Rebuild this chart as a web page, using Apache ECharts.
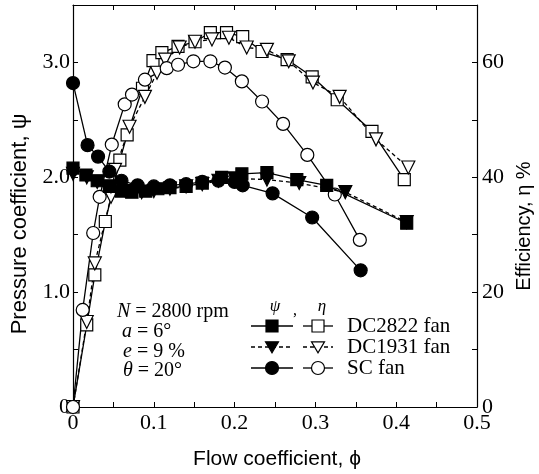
<!DOCTYPE html>
<html>
<head>
<meta charset="utf-8">
<script src="https://cdn.jsdelivr.net/npm/echarts@6/dist/echarts.min.js"></script>
<style>html,body{margin:0;padding:0;background:#fff;}#c{width:539px;height:474px;}</style>
</head>
<body>
<div id="c"></div>
<script>
// ---- data ----
const xTickLabels = ['0', '0.1', '0.2', '0.3', '0.4', '0.5'];
const psiTickLabels = ['0', '1.0', '2.0', '3.0'];
const etaTickLabels = ['0', '20', '40', '60'];

// DC2822 fan
const dc2822PsiX = [0, 0.016, 0.03, 0.045, 0.06, 0.073, 0.09, 0.105, 0.12, 0.14, 0.16, 0.184, 0.209, 0.24, 0.277, 0.314, 0.413];
const dc2822Psi  = [2.08, 2.02, 1.97, 1.92, 1.88, 1.87, 1.88, 1.90, 1.91, 1.92, 1.95, 2.00, 2.03, 2.04, 1.98, 1.93, 1.60];
const dc2822EtaX = [0, 0.017, 0.027, 0.04, 0.058, 0.067, 0.086, 0.099, 0.11, 0.13, 0.151, 0.17, 0.19, 0.21, 0.234, 0.265, 0.296, 0.327, 0.37, 0.41];
const dc2822Eta  = [0, 14.3, 23, 32.3, 43, 47.4, 55.5, 60.3, 61.7, 62.8, 63.6, 65.2, 65.2, 64.5, 61.9, 60.5, 57.5, 53.5, 48, 39.6];

// DC1931 fan
const dc1931PsiX = [0, 0.017, 0.03, 0.047, 0.065, 0.085, 0.1, 0.12, 0.14, 0.16, 0.18, 0.2, 0.24, 0.28, 0.337, 0.413];
const dc1931Psi  = [2.03, 2.00, 1.96, 1.92, 1.88, 1.87, 1.88, 1.90, 1.92, 1.94, 1.97, 1.99, 1.98, 1.95, 1.87, 1.61];
const dc1931EtaX = [0, 0.017, 0.027, 0.047, 0.052, 0.07, 0.089, 0.104, 0.114, 0.132, 0.151, 0.172, 0.193, 0.215, 0.24, 0.267, 0.297, 0.33, 0.375, 0.415];
const dc1931Eta  = [0, 14.8, 25, 36.6, 41.3, 48.8, 54, 58.2, 60.5, 62.6, 63.6, 64, 64.3, 62.6, 62.2, 60.2, 56.5, 54, 46.6, 41.7];

// SC fan
const scPsiX = [0, 0.018, 0.031, 0.045, 0.06, 0.08, 0.1, 0.12, 0.14, 0.16, 0.18, 0.2, 0.21, 0.247, 0.296, 0.356];
const scPsi  = [2.82, 2.28, 2.18, 2.05, 1.97, 1.93, 1.92, 1.93, 1.94, 1.96, 1.97, 1.96, 1.93, 1.86, 1.65, 1.19];
const scEtaX = [0, 0.012, 0.025, 0.033, 0.048, 0.064, 0.073, 0.089, 0.116, 0.13, 0.149, 0.17, 0.188, 0.209, 0.234, 0.26, 0.29, 0.324, 0.355];
const scEta  = [0, 16.9, 30.3, 36.6, 45.7, 52.7, 54.4, 57, 59, 59.6, 60.2, 60.2, 59.1, 56.7, 53.2, 49.3, 43.9, 37, 29.1];

// ---- chart ----
const zip = (xs, ys) => xs.map((x, i) => [x, ys[i]]);
const SERIF = 'Liberation Serif';
const SANS = 'Liberation Sans';
const BLACK = '#000';

function mkSeries(xs, ys, axis, symbol, filled, dashed, size, rotate) {
  return {
    type: 'line',
    yAxisIndex: axis,
    data: zip(xs, ys),
    symbol: symbol,
    symbolSize: size,
    symbolRotate: rotate || 0,
    showAllSymbol: true,
    animation: false,
    lineStyle: { color: BLACK, width: 1.3, type: dashed ? [4, 3] : 'solid' },
    itemStyle: { color: filled ? BLACK : '#fff', borderColor: BLACK, borderWidth: 1.2, opacity: 1 },
    z: filled ? 3 : 2
  };
}

function xFmt(v) {
  const k = Math.round(v * 100);
  if (k % 10 !== 0) return '';
  return xTickLabels[k / 10] || '';
}
function psiFmt(v) {
  const k = Math.round(v * 10);
  if (k % 10 !== 0) return '';
  return psiTickLabels[k / 10] || '';
}
function etaFmt(v) {
  if (v % 20 !== 0) return '';
  return etaTickLabels[v / 20] || '';
}

const axisLine = { show: true, onZero: false, lineStyle: { color: BLACK, width: 1.2 } };
const axisTick = { show: true, inside: true, length: 5, lineStyle: { color: BLACK, width: 1 } };
const lblStyle = { color: BLACK, fontFamily: SERIF, fontSize: 22 };

// legend sample helpers (legend key, not data)
function sq(cx, cy, s, fill) {
  return { type: 'rect', shape: { x: cx - s / 2, y: cy - s / 2, width: s, height: s }, style: { fill: fill, stroke: BLACK, lineWidth: 1.2 }, z: 10 };
}
function circ(cx, cy, r, fill) {
  return { type: 'circle', shape: { cx: cx, cy: cy, r: r }, style: { fill: fill, stroke: BLACK, lineWidth: 1.2 }, z: 10 };
}
function tri(cx, cy, s, fill) {
  return { type: 'polygon', shape: { points: [[cx - s / 2, cy - s * 0.4], [cx + s / 2, cy - s * 0.4], [cx, cy + s * 0.45]] }, style: { fill: fill, stroke: BLACK, lineWidth: 1.2 }, z: 10 };
}
function seg(x1, x2, y, dashed) {
  return { type: 'line', shape: { x1: x1, y1: y, x2: x2, y2: y }, style: { stroke: BLACK, lineWidth: 1.3, lineDash: dashed ? [4, 3] : null }, z: 9 };
}
function txt(x, y, text, opts) {
  return Object.assign({ type: 'text', x: x, y: y, z: 11, style: Object.assign({ text: text, fill: BLACK, fontFamily: SERIF, fontSize: 20, textAlign: 'left', textVerticalAlign: 'middle' }, opts || {}) });
}

const legendRows = [
  { y: 326, name: 'DC2822 fan', dashed: false, kind: 'sq' },
  { y: 347, name: 'DC1931 fan', dashed: true, kind: 'tri' },
  { y: 368, name: 'SC fan', dashed: false, kind: 'circ' }
];
const graphics = [];
legendRows.forEach(r => {
  graphics.push(seg(251, 293, r.y, r.dashed));
  graphics.push(seg(303, 333, r.y, r.dashed));
  if (r.kind === 'sq') { graphics.push(sq(272, r.y, 12, BLACK)); graphics.push(sq(318, r.y, 12, '#fff')); }
  if (r.kind === 'tri') { graphics.push(tri(272, r.y, 13, BLACK)); graphics.push(tri(318, r.y, 13, '#fff')); }
  if (r.kind === 'circ') { graphics.push(circ(272, r.y, 6.5, BLACK)); graphics.push(circ(318, r.y, 6.5, '#fff')); }
  graphics.push(txt(347, r.y, r.name, { fontSize: 21 }));
});
graphics.push(txt(275, 307, 'ψ', { fontSize: 17, fontStyle: 'italic', textAlign: 'center' }));
graphics.push(txt(295, 311, ',', { fontSize: 16, textAlign: 'center' }));
graphics.push(txt(322, 307, 'η', { fontSize: 17, fontStyle: 'italic', textAlign: 'center' }));

// condition annotations
const rich = { i: { fontStyle: 'italic', fontFamily: SERIF, fontSize: 20, fill: BLACK } };
graphics.push(txt(117, 312, '{i|N} = 2800 rpm', { rich: rich }));
graphics.push(txt(122, 332, '{i|a} = 6°', { rich: rich }));
graphics.push(txt(123, 352, '{i|e} = 9 %', { rich: rich }));
graphics.push(txt(123, 371, '{i|θ} = 20°', { rich: rich }));

// axis titles
graphics.push({ type: 'text', x: 20, y: 224, rotation: Math.PI / 2, z: 11,
  style: { text: 'Pressure coefficient, ψ', fill: BLACK, fontFamily: SANS, fontSize: 22, textAlign: 'center', textVerticalAlign: 'middle' } });
graphics.push({ type: 'text', x: 524, y: 226, rotation: Math.PI / 2, z: 11,
  style: { text: 'Efficiency, η %', fill: BLACK, fontFamily: SANS, fontSize: 20, textAlign: 'center', textVerticalAlign: 'middle' } });
graphics.push({ type: 'text', x: 277, y: 459, z: 11,
  style: { text: 'Flow coefficient, ϕ', fill: BLACK, fontFamily: SANS, fontSize: 21, textAlign: 'center', textVerticalAlign: 'middle' } });

const chart = echarts.init(document.getElementById('c'), null, { renderer: 'canvas' });
chart.setOption({
  animation: false,
  backgroundColor: '#fff',
  grid: { left: 73, right: 62, top: 5, bottom: 67, containLabel: false },
  xAxis: [
    { type: 'value', min: 0, max: 0.5, interval: 0.05, position: 'bottom',
      axisLine: axisLine, axisTick: axisTick, splitLine: { show: false },
      axisLabel: Object.assign({ formatter: xFmt, margin: 5 }, lblStyle) },
    { type: 'value', min: 0, max: 0.5, interval: 0.05, position: 'top',
      axisLine: axisLine, axisTick: axisTick, splitLine: { show: false }, axisLabel: { show: false } }
  ],
  yAxis: [
    { type: 'value', min: 0, max: 3.5, interval: 0.5, position: 'left',
      axisLine: axisLine, axisTick: axisTick, splitLine: { show: false },
      axisLabel: Object.assign({ formatter: psiFmt, margin: 3 }, lblStyle) },
    { type: 'value', min: 0, max: 70, interval: 10, position: 'right',
      axisLine: axisLine, axisTick: axisTick, splitLine: { show: false },
      axisLabel: Object.assign({ formatter: etaFmt, margin: 5 }, lblStyle) }
  ],
  series: [
    mkSeries(dc2822EtaX, dc2822Eta, 1, 'rect', false, false, 12),
    mkSeries(dc1931EtaX, dc1931Eta, 1, 'triangle', false, true, 13, 180),
    mkSeries(scEtaX, scEta, 1, 'circle', false, false, 13),
    mkSeries(scPsiX, scPsi, 0, 'circle', true, false, 13),
    mkSeries(dc1931PsiX, dc1931Psi, 0, 'triangle', true, true, 13, 180),
    mkSeries(dc2822PsiX, dc2822Psi, 0, 'rect', true, false, 12)
  ],
  graphic: graphics
});
</script>
</body>
</html>
